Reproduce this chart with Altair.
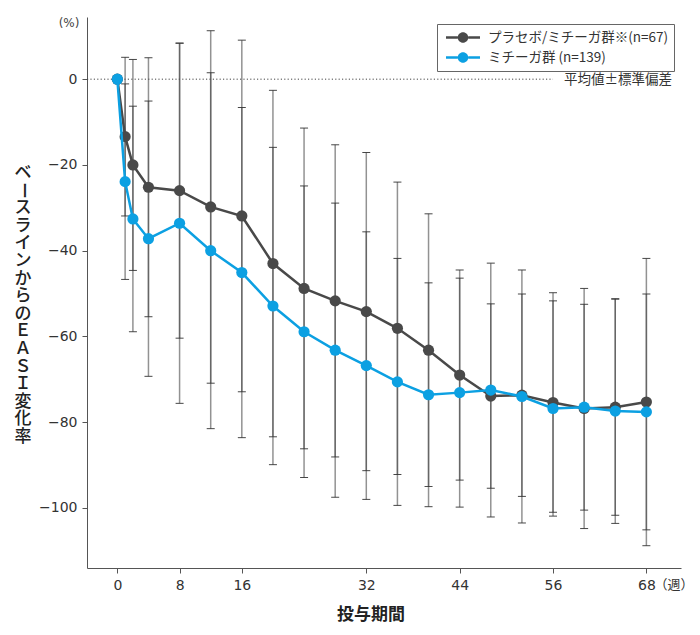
import altair as alt
import pandas as pd

# ---- data ----
weeks = [0, 1, 2, 4, 8, 12, 16, 20, 24, 28, 32, 36, 40, 44, 48, 52, 56, 60, 64, 68]
placebo_mean = [0, -13.4, -20.0, -25.2, -26.0, -29.8, -31.9, -43.0, -48.8, -51.7,
                -54.2, -58.1, -63.2, -69.0, -73.9, -73.7, -75.4, -76.8, -76.5, -75.3]
placebo_sd = [0, 18.5, 24.6, 30.2, 34.4, 41.1, 41.0, 40.4, 37.4, 36.4,
              37.1, 34.1, 31.8, 24.5, 21.5, 23.6, 25.6, 28.0, 25.2, 33.5]
mitch_mean = [0, -23.9, -32.6, -37.2, -33.6, -40.0, -45.1, -52.9, -58.9, -63.2,
              -66.8, -70.6, -73.6, -73.1, -72.5, -74.0, -76.8, -76.5, -77.4, -77.6]
mitch_sd = [0, 22.8, 26.3, 32.1, 42.0, 41.5, 38.5, 37.0, 34.0, 34.3,
            31.2, 28.8, 26.1, 26.7, 29.6, 29.5, 25.1, 24.0, 26.2, 27.5]
groups = ["プラセボ/ミチーガ群※(n=67)", "ミチーガ群 (n=139)"]
x_ticks = [0, 8, 16, 32, 44, 56, 68]
y_ticks = [-100, -80, -60, -40, -20, 0]
y_title = "ベースラインからのＥＡＳＩ変化率"
x_title = "投与期間"
note = "平均値±標準偏差"

# ---- styles ----
colors = ["#494949", "#0ca0e2"]
jp_font = "Noto Sans CJK JP"
num_font = "DejaVu Sans"

rows = []
for g, means, sds in zip(groups, [placebo_mean, mitch_mean], [placebo_sd, mitch_sd]):
    for w, m, s in zip(weeks, means, sds):
        rows.append({"week": w, "mean": m, "lo": m - s, "hi": m + s, "group": g})
df = pd.DataFrame(rows)
eb = df[df["week"] > 0]
one = pd.DataFrame({"k": [0]})
title_df = pd.DataFrame({"ch": list(y_title), "i": list(range(len(y_title)))})

xscale = alt.Scale(domain=[-3.9, 72.45], nice=False, zero=False)
yscale = alt.Scale(domain=[-114, 14.5], nice=False, zero=False)
xaxis = alt.Axis(values=x_ticks, title=None, grid=False, domainColor="#555",
                 tickColor="#555", tickSize=5, labelFont=num_font, labelFontSize=14,
                 labelColor="#333", labelPadding=5, format="d")
yaxis = alt.Axis(values=y_ticks, title=None, grid=False, domainColor="#555",
                 tickColor="#555", tickSize=5, labelFont=num_font, labelFontSize=14,
                 labelColor="#333", labelPadding=5, format="d")

X = alt.X("week:Q", scale=xscale, axis=xaxis)

zero_line = alt.Chart(one).mark_rule(color="#444", strokeDash=[1.2, 2.2], strokeWidth=1).encode(
    y=alt.datum(0, scale=yscale), x=alt.datum(-3.9), x2=alt.datum(56)
)

bars = alt.Chart(eb).mark_rule(color="#4a4a4a", strokeWidth=1.5, opacity=0.6).encode(
    x=X, y=alt.Y("lo:Q", scale=yscale, axis=yaxis), y2="hi:Q"
)
cap_lo = alt.Chart(eb).mark_tick(orient="horizontal", size=8, thickness=1, color="#333", opacity=0.9).encode(
    x="week:Q", y="lo:Q"
)
cap_hi = alt.Chart(eb).mark_tick(orient="horizontal", size=8, thickness=1, color="#333", opacity=0.9).encode(
    x="week:Q", y="hi:Q"
)

r = 0.31
sym = (f"M-1,-0.075L{-r},-0.075L{-r},0.075L-1,0.075Z "
       f"M{r},-0.075L1,-0.075L1,0.075L{r},0.075Z "
       f"M{r},0A{r},{r} 0 1,1 {-r},0A{r},{r} 0 1,1 {r},0Z")
legend = alt.Legend(title=None, orient="none", legendX=350, legendY=7,
                    symbolType=sym, symbolSize=1156, symbolStrokeWidth=0,
                    symbolOpacity=1, labelFont=jp_font, labelFontSize=13.5,
                    labelColor="#333", labelLimit=400, strokeColor="#666",
                    fillColor="white", padding=5, rowPadding=3, labelOffset=8,
                    symbolOffset=4, clipHeight=17)
color = alt.Color("group:N", scale=alt.Scale(domain=groups, range=colors), legend=legend)

layers = [zero_line, bars, cap_lo, cap_hi]
for g, c in zip(groups, colors):
    sub = alt.Chart(df).transform_filter(alt.datum.group == g)
    layers.append(sub.mark_line(color=c, strokeWidth=2.5).encode(x="week:Q", y="mean:Q"))
    layers.append(sub.mark_circle(size=125, opacity=1).encode(x="week:Q", y="mean:Q", color=color))

# annotations
ytitle = alt.Chart(title_df).mark_text(font=jp_font, fontSize=17, fontWeight=500,
                                       color="#222", align="center", baseline="middle").encode(
    text="ch:N",
    x=alt.value(-64),
    y=alt.value(156),
    yOffset=alt.YOffset("i:Q", scale=alt.Scale(domain=[0, len(y_title) - 1], range=[0, 264], nice=False, zero=False)),
    angle=alt.condition(alt.datum.ch == "ー", alt.value(90), alt.value(0)),
)
xtitle = alt.Chart(one).mark_text(text=x_title, font=jp_font, fontSize=17, fontWeight="bold",
                                  color="#222", align="center", baseline="middle").encode(
    x=alt.value(284), y=alt.value(598))
pct = alt.Chart(one).mark_text(text="(%)", font=num_font, fontSize=12, color="#444",
                               align="center", baseline="middle").encode(
    x=alt.value(-18), y=alt.value(6))
week_unit = alt.Chart(one).mark_text(text="（週）", font=jp_font, fontSize=13, color="#333",
                                     align="left", baseline="middle", dx=8).encode(
    x=alt.datum(68), y=alt.value(568))
note_t = alt.Chart(one).mark_text(text=note, font=jp_font, fontSize=13.5, color="#333",
                                  align="right", baseline="middle", dy=1).encode(
    x=alt.datum(71.3), y=alt.datum(0))

layers += [ytitle, xtitle, pct, week_unit, note_t]

chart = alt.layer(*layers).properties(
    width=594, height=551,
    padding={"left": 79, "top": 9, "right": 11, "bottom": 59},
    autosize=alt.AutoSizeParams(type="none"),
    background="white",
).configure_view(stroke=None)

chart.save("out.html", embed_options={"renderer": "svg", "actions": False})
